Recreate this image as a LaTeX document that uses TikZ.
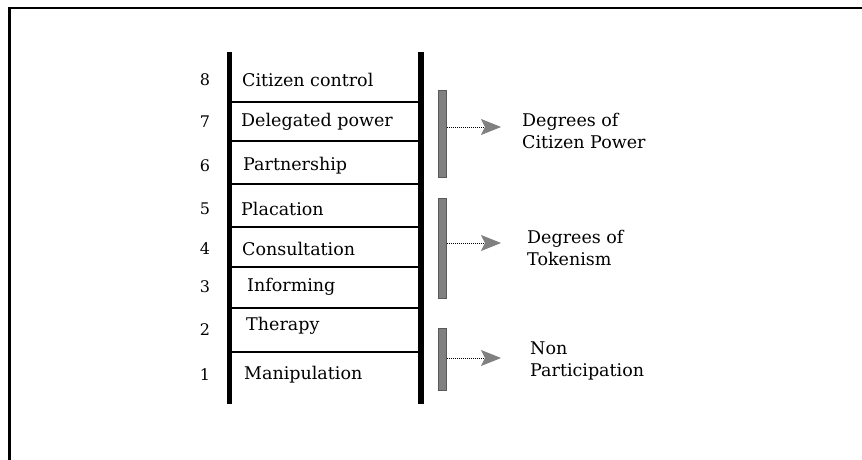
\documentclass[tikz,border=0pt]{standalone}
\usepackage{fontspec}
\setmainfont{DejaVu Serif}
\usetikzlibrary{arrows.meta}
\begin{document}
\begin{tikzpicture}[x=1pt,y=-1pt,
  rail/.style={line width=5.5pt},
  rung/.style={line width=1.6pt},
  lbl/.style={anchor=west,inner sep=0pt,font=\fontsize{17.5}{20}\selectfont},
  num/.style={anchor=center,inner sep=0pt,font=\fontsize{16}{20}\selectfont},
  grp/.style={anchor=west,inner sep=0pt,align=left,font=\fontsize{17.5}{22}\selectfont},
  bar/.style={fill=black!50,draw=black!65,line width=0.5pt,inner sep=0pt,minimum width=8pt},
  pointer/.style={densely dotted,line width=1pt,-{Stealth[length=20pt,width=16pt,inset=4pt,color=black!50,fill=black!50]}}]
\useasboundingbox (0,0) rectangle (862,460);
% frame (left and top edges)
\coordinate (fbl) at (9.5,460);
\coordinate (ftl) at (9.5,8);
\coordinate (ftr) at (862,8);
\draw[line width=2.5pt] (fbl) -- (ftl) -- (ftr);
% rails
\coordinate (lt) at (229.5,52);
\coordinate (lb) at (229.5,404);
\coordinate (rt) at (421,52);
\coordinate (rb) at (421,404);
\draw[rail] (lt) -- (lb);
\draw[rail] (rt) -- (rb);
% rungs
\foreach \y/\n in {102/a,141/b,184/c,227/d,267/e,308/f,352/g}{
  \coordinate (l\n) at (229.5,\y);
  \coordinate (r\n) at (421,\y);
  \draw[rung] (l\n) -- (r\n);
}
% numbers
\node[num] (n8) at (205,80) {8};
\node[num] (n7) at (205,122) {7};
\node[num] (n6) at (205,166) {6};
\node[num] (n5) at (205,209) {5};
\node[num] (n4) at (205,249) {4};
\node[num] (n3) at (205,287) {3};
\node[num] (n2) at (205,330) {2};
\node[num] (n1) at (205,375) {1};
% rung labels
\node[lbl] (t8) at (242,80) {Citizen control};
\node[lbl] (t7) at (241,122) {Delegated power};
\node[lbl] (t6) at (243,166) {Partnership};
\node[lbl] (t5) at (241,209) {Placation};
\node[lbl] (t4) at (242,249) {Consultation};
\node[lbl] (t3) at (247,287) {Informing};
\node[lbl] (t2) at (246,326) {Therapy};
\node[lbl] (t1) at (244,375) {Manipulation};
% grouping bars
\node[bar,minimum height=87pt] (b1) at (442.5,133.5) {};
\node[bar,minimum height=100pt] (b2) at (442.5,248) {};
\node[bar,minimum height=62pt] (b3) at (442.5,359) {};
% group labels
\node[grp] (g1) at (522,131) {Degrees of\\Citizen Power};
\node[grp] (g2) at (527,248) {Degrees of\\Tokenism};
\node[grp] (g3) at (530,361) {Non\\Participation};
% pointers
\coordinate (e1) at (501,127);
\coordinate (e2) at (501,243);
\coordinate (e3) at (501,358);
\draw[pointer] (b1.east |- e1) -- (e1);
\draw[pointer] (b2.east |- e2) -- (e2);
\draw[pointer] (b3.east |- e3) -- (e3);
\end{tikzpicture}
\end{document}
